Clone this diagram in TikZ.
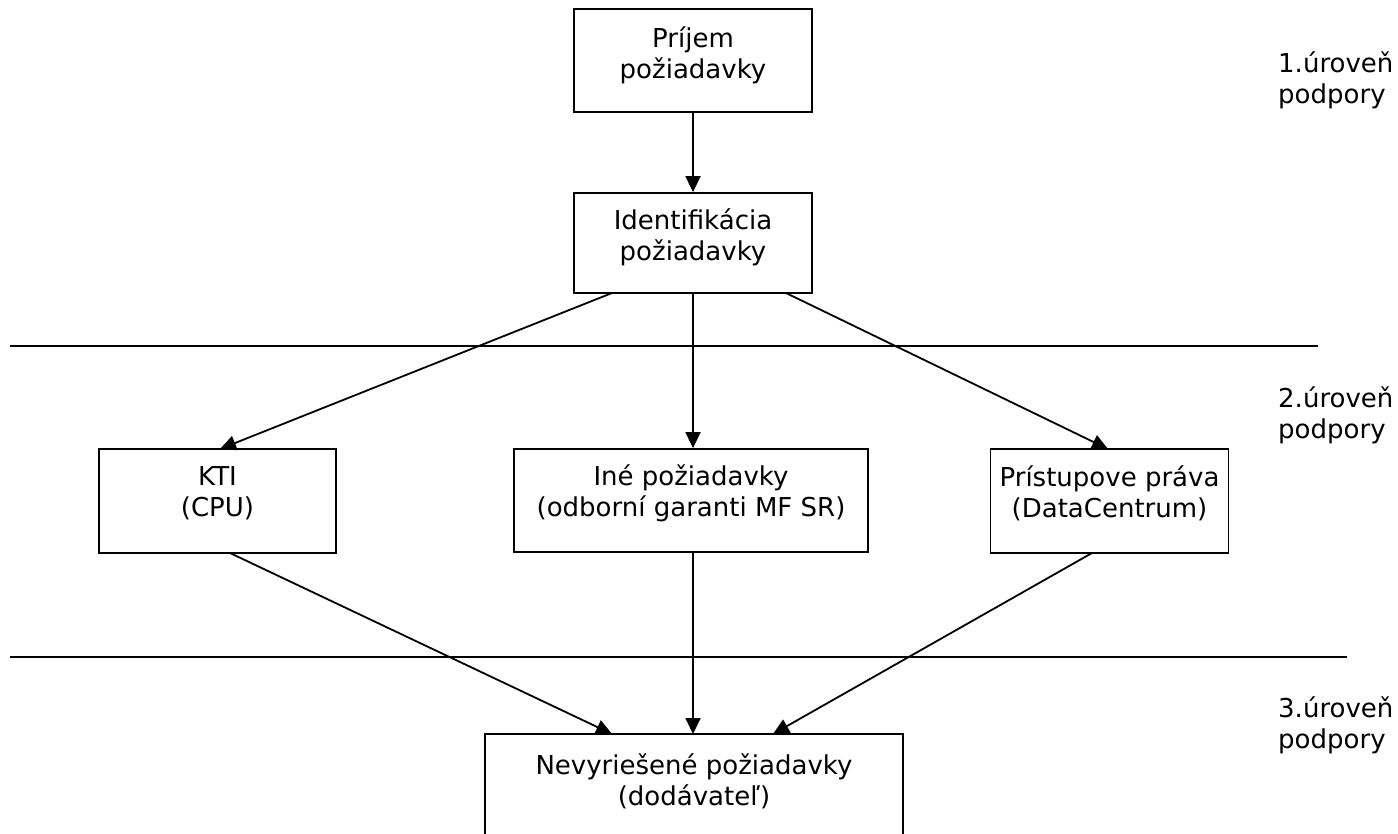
\documentclass[tikz,border=0pt]{standalone}
\usepackage{fontspec}
\setmainfont{DejaVu Sans}
\usetikzlibrary{arrows.meta}
\begin{document}
\begin{tikzpicture}[x=1pt,y=-1pt,
  every node/.style={font=\fontsize{26}{31}\selectfont},
  box/.style={draw=black,line width=1.8pt,inner sep=0pt},
  txt/.style={align=center,inner sep=0pt},
  lvl/.style={align=left,anchor=west,inner sep=0pt},
  arr/.style={line width=1.8pt,-{Triangle[length=16pt,width=15pt]}},
  sep/.style={line width=1.8pt}]
\useasboundingbox (0,0) rectangle (1398,834);
% boxes
\node[box,minimum width=238pt,minimum height=103pt] (p) at (693,60.5) {};
\node[txt] (pt) at (693,55) {Príjem\\požiadavky};
\node[box,minimum width=238pt,minimum height=100pt] (i) at (693,243) {};
\node[txt] (it) at (693,237.5) {Identifikácia\\požiadavky};
\node[box,minimum width=237pt,minimum height=104pt] (k) at (217.5,501) {};
\node[txt] (kt) at (217.5,493) {KTI\\(CPU)};
\node[box,minimum width=354pt,minimum height=103pt] (o) at (691,500.5) {};
\node[txt] (ot) at (691,493.5) {Iné požiadavky\\(odborní garanti MF SR)};
\node[box,minimum width=238pt,minimum height=104pt] (d) at (1109.5,501) {};
\node[txt] (dt) at (1109.5,493.5) {Prístupove práva\\(DataCentrum)};
% bottom box (cut off by the page edge)
\coordinate (nw) at (485,734); \coordinate (ne) at (903,734);
\draw[line width=1.8pt] (485,840) -- (nw) -- (ne) -- (903,840);
\node[txt] (nt) at (694,781) {Nevyriešené požiadavky\\(dodávateľ)};
% separators
\coordinate (l1a) at (10,346); \coordinate (l1b) at (1318,346);
\coordinate (l2a) at (10,657); \coordinate (l2b) at (1347,657);
\draw[sep] (l1a) -- (l1b);
\draw[sep] (l2a) -- (l2b);
% level labels
\node[lvl] (t1) at (1278,80) {1.úroveň\\podpory};
\node[lvl] (t2) at (1278,415) {2.úroveň\\podpory};
\node[lvl] (t3) at (1278,725) {3.úroveň\\podpory};
% connectors
\coordinate (i1) at (612,293); \coordinate (i3) at (786,293);
\coordinate (k1) at (220,449); \coordinate (d1) at (1108,449);
\coordinate (k2) at (230,553); \coordinate (d2) at (1092,553);
\coordinate (n1) at (612,734); \coordinate (n2) at (693,734); \coordinate (n3) at (773,734);
\draw[arr] (p.south) -- (i.north);
\draw[arr] (i1) -- (k1);
\draw[arr] (i.south) -- (o.north -| i.south);
\draw[arr] (i3) -- (d1);
\draw[arr] (k2) -- (n1);
\draw[arr] (o.south -| i.south) -- (n2);
\draw[arr] (d2) -- (n3);
\end{tikzpicture}
\end{document}
